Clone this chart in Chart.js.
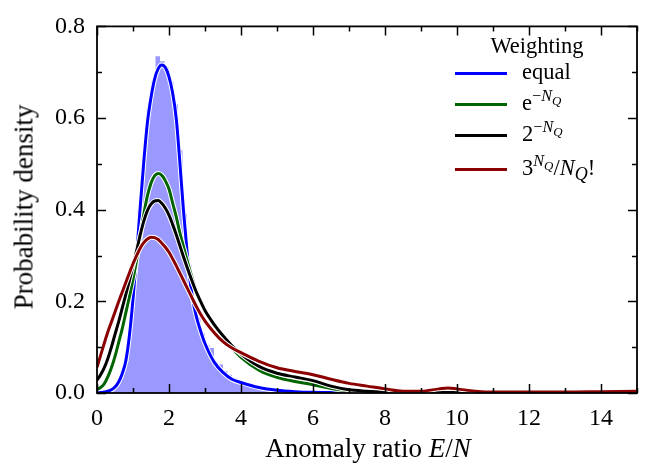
<!DOCTYPE html>
<html>
<head>
<meta charset="utf-8">
<script src="https://cdn.jsdelivr.net/npm/chart.js@4/dist/chart.umd.min.js"></script>
<style>
  body { margin: 0; background: #fff; }
  #wrap { position: relative; width: 652px; height: 465px; font-family: "Liberation Serif", serif; color: #000; }
  #wrap div.t { position: absolute; white-space: nowrap; line-height: 1; }
  #ytitle { left: 24px; top: 207px; font-size: 27px; transform: translate(-50%, -50%) rotate(-90deg); }
  #xtitle { left: 368px; top: 448px; font-size: 27px; transform: translate(-50%, -50%); }
  #legend { position: absolute; left: 450px; top: 30px; width: 180px; font-size: 22.5px; }
  #legend .title { position: absolute; left: 87px; top: 16px; transform: translate(-50%, -50%); white-space: nowrap; }
  #legend .row { position: absolute; left: 0; height: 0; }
  #legend .sw { position: absolute; left: 5px; width: 52px; height: 3px; top: -1.5px; }
  #legend .lab { position: absolute; left: 72px; top: 0; transform: translateY(-55%); white-space: nowrap; }
  sup { font-size: 0.72em; vertical-align: 0.55em; line-height: 0; }
  sup sub, .lab sub { font-size: 0.8em; vertical-align: -0.3em; line-height: 0; }
</style>
</head>
<body>
<div id="wrap">
  <canvas id="kde" width="652" height="465"></canvas>
  <div class="t" id="ytitle">Probability density</div>
  <div class="t" id="xtitle">Anomaly ratio <i>E</i>/<i>N</i></div>
  <div id="legend">
    <div class="title">Weighting</div>
    <div class="row" style="top:43px"><div class="sw" style="background:#0000ff"></div><div class="lab">equal</div></div>
    <div class="row" style="top:74px"><div class="sw" style="background:#006400"></div><div class="lab">e<sup>−<i>N</i><sub><i>Q</i></sub></sup></div></div>
    <div class="row" style="top:105px"><div class="sw" style="background:#000000"></div><div class="lab">2<sup>−<i>N</i><sub><i>Q</i></sub></sup></div></div>
    <div class="row" style="top:139px"><div class="sw" style="background:#8b0000"></div><div class="lab">3<sup><i>N</i><sub><i>Q</i></sub></sup>/<i>N</i><sub><i>Q</i></sub>!</div></div>
  </div>
</div>
<script>
// KDE curves of E/N under the four weightings
var xs = [0, 0.1, 0.2, 0.3, 0.4, 0.5, 0.6, 0.7, 0.8, 0.9,
          1.0, 1.1, 1.2, 1.3, 1.4, 1.5, 1.6, 1.7, 1.8, 1.9,
          2.0, 2.1, 2.2, 2.3, 2.4, 2.5, 2.6, 2.7, 2.8, 2.9,
          3.0, 3.25, 3.5, 3.75, 4.0, 4.5, 5.0, 5.5, 6.0, 6.5,
          7.0, 7.5, 8.0, 8.5, 9.0, 9.5, 9.75, 10.0, 10.5, 11.0,
          12.0, 13.0, 14.0, 15.0];

var equalW = [0.000, 0.001, 0.002, 0.004, 0.007, 0.013, 0.024, 0.042, 0.070, 0.125,
              0.205, 0.300, 0.405, 0.505, 0.590, 0.645, 0.685, 0.708, 0.716, 0.710,
              0.690, 0.655, 0.600, 0.505, 0.400, 0.310, 0.235, 0.187, 0.155, 0.130,
              0.108, 0.068, 0.045, 0.030, 0.023, 0.012, 0.006, 0.003, 0.0015, 0.001,
              0.0005, 0, 0, 0, 0, 0, 0, 0, 0, 0,
              0, 0, 0, 0];

var expW = [0.008, 0.012, 0.020, 0.035, 0.055, 0.080, 0.110, 0.140, 0.175, 0.210,
            0.248, 0.290, 0.340, 0.390, 0.430, 0.458, 0.474, 0.479, 0.475, 0.463,
            0.445, 0.415, 0.385, 0.350, 0.320, 0.290, 0.262, 0.237, 0.215, 0.197,
            0.180, 0.150, 0.123, 0.098, 0.078, 0.050, 0.034, 0.025, 0.018, 0.010,
            0.005, 0.002, 0.001, 0.0005, 0, 0, 0, 0, 0, 0,
            0, 0, 0, 0];

var pow2W = [0.028, 0.040, 0.055, 0.075, 0.100, 0.128, 0.155, 0.185, 0.215, 0.245,
             0.278, 0.310, 0.345, 0.375, 0.398, 0.412, 0.419, 0.420, 0.414, 0.403,
             0.388, 0.368, 0.346, 0.322, 0.298, 0.275, 0.253, 0.232, 0.213, 0.196,
             0.180, 0.150, 0.125, 0.103, 0.085, 0.058, 0.043, 0.035, 0.027, 0.015,
             0.007, 0.004, 0.002, 0.001, 0.001, 0.001, 0.001, 0.001, 0, 0,
             0, 0, 0, 0];

var poissonW = [0.056, 0.082, 0.108, 0.133, 0.155, 0.177, 0.199, 0.220, 0.241, 0.262,
                0.282, 0.300, 0.316, 0.328, 0.336, 0.340, 0.339, 0.335, 0.327, 0.318,
                0.307, 0.293, 0.278, 0.262, 0.246, 0.230, 0.214, 0.198, 0.183, 0.169,
                0.157, 0.132, 0.112, 0.098, 0.088, 0.069, 0.055, 0.047, 0.040, 0.030,
                0.021, 0.015, 0.009, 0.004, 0.004, 0.009, 0.011, 0.009, 0.004, 0.002,
                0.002, 0.002, 0.003, 0.004];

// histogram of the equal-weight sample, bin edges and heights
var binEdges = [0, 0.125, 0.25, 0.375, 0.5, 0.625, 0.75, 0.875, 1.0, 1.125,
                1.25, 1.375, 1.5, 1.625, 1.75, 1.875, 2.0, 2.125, 2.25, 2.375,
                2.5, 2.625, 2.75, 2.875, 3.0, 3.125, 3.25, 3.375, 3.5, 3.625,
                3.75, 3.875, 4.0, 4.125, 4.25, 4.375, 4.5, 4.625, 4.75, 4.875,
                5.0, 5.125, 5.25, 5.375, 5.5, 5.625, 5.75, 5.875, 6.0];
var binHeights = [0.000, 0.002, 0.004, 0.008, 0.016, 0.034, 0.068, 0.148, 0.262, 0.400,
                  0.520, 0.620, 0.680, 0.735, 0.724, 0.710, 0.680, 0.630, 0.530, 0.390,
                  0.280, 0.205, 0.165, 0.130, 0.105, 0.098, 0.066, 0.062, 0.048, 0.040,
                  0.033, 0.028, 0.024, 0.020, 0.018, 0.014, 0.013, 0.009, 0.008, 0.006,
                  0.006, 0.004, 0.004, 0.003, 0.002, 0.002, 0.001, 0.001];

function pts(ys) {
    return xs.map(function (x, i) { return { x: x, y: ys[i] }; });
}

// each curve gets a thin white halo drawn underneath it
function curve(label, ys, color, order) {
    var base = {
        type: 'line',
        data: pts(ys),
        pointRadius: 0,
        fill: false,
        cubicInterpolationMode: 'monotone'
    };
    return [
        Object.assign({}, base, { label: label + ' halo', borderColor: '#ffffff', borderWidth: 5, order: order + 1 }),
        Object.assign({}, base, { label: label, borderColor: color, borderWidth: 3, order: order })
    ];
}

// each bin's height holds from its left edge to the next edge
var histData = binEdges.map(function (e, i) {
    return { x: e, y: i < binHeights.length ? binHeights[i] : 0 };
});

var datasets = [{
    type: 'line',
    label: 'histogram',
    data: histData,
    stepped: 'before',
    fill: 'origin',
    backgroundColor: 'rgba(0, 0, 255, 0.4)',
    borderWidth: 0,
    pointRadius: 0,
    order: 20
}].concat(
    curve('equal', equalW, '#0000ff', 16),
    curve('exp', expW, '#006400', 12),
    curve('pow2', pow2W, '#000000', 8),
    curve('poisson', poissonW, '#8b0000', 4)
);

// inward ticks on all four sides plus the box
var frameTicks = {
    id: 'frameTicks',
    afterDatasetsDraw: function (chart) {
        var ctx = chart.ctx, a = chart.chartArea, sx = chart.scales.x, sy = chart.scales.y;
        ctx.save();
        ctx.strokeStyle = '#000';
        ctx.lineWidth = 1.5;
        ctx.beginPath();
        for (var v = 0; v <= 15; v++) {
            var px = Math.round(sx.getPixelForValue(v)) + 0.5;
            var len = v % 2 ? 5 : 9;
            ctx.moveTo(px, a.bottom); ctx.lineTo(px, a.bottom - len);
            ctx.moveTo(px, a.top); ctx.lineTo(px, a.top + len);
        }
        for (var k = 0; k <= 8; k++) {
            var py = Math.round(sy.getPixelForValue(k / 10)) + 0.5;
            var l2 = k % 2 ? 5 : 9;
            ctx.moveTo(a.left, py); ctx.lineTo(a.left + l2, py);
            ctx.moveTo(a.right, py); ctx.lineTo(a.right - l2, py);
        }
        ctx.stroke();
        ctx.lineWidth = 1.8;
        ctx.strokeRect(a.left, a.top, a.right - a.left, a.bottom - a.top);
        ctx.restore();
    }
};

var tickFont = { family: 'Liberation Serif', size: 24 };

new Chart(document.getElementById('kde'), {
    data: { datasets: datasets },
    options: {
        responsive: false,
        animation: false,
        devicePixelRatio: 1,
        layout: { padding: { top: 20, right: 15, left: 0, bottom: 0 } },
        plugins: { legend: { display: false }, tooltip: { enabled: false } },
        scales: {
            x: {
                type: 'linear',
                min: 0,
                max: 15,
                grid: { display: false, drawTicks: false },
                border: { display: false },
                ticks: { stepSize: 2, includeBounds: false, color: '#000', font: tickFont, padding: 11, maxRotation: 0 },
                afterFit: function (s) { s.height = 72; }
            },
            y: {
                min: 0,
                max: 0.8,
                grid: { display: false, drawTicks: false },
                border: { display: false },
                ticks: {
                    stepSize: 0.2, color: '#000', font: tickFont, padding: 12,
                    callback: function (v) { return v.toFixed(1); }
                },
                afterFit: function (s) { s.width = 97; }
            }
        }
    },
    plugins: [frameTicks]
});
</script>
</body>
</html>
